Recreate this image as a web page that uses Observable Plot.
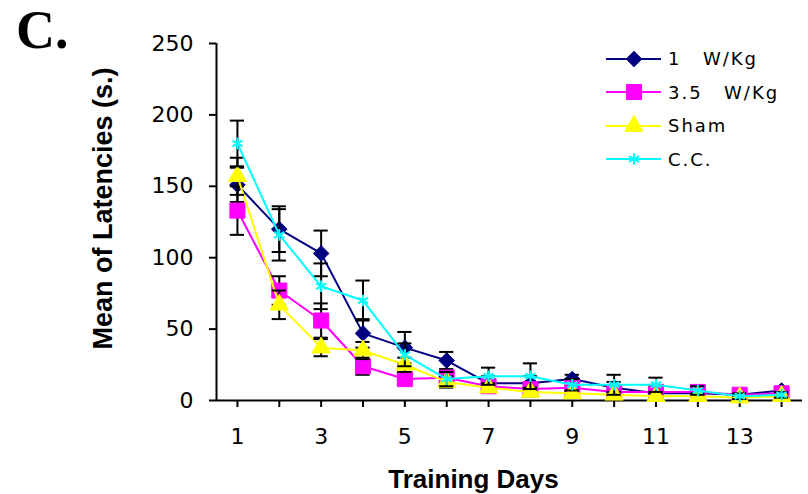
<!DOCTYPE html>
<html><head><meta charset="utf-8">
<script src="https://cdn.jsdelivr.net/npm/d3@7"></script>
<script src="https://cdn.jsdelivr.net/npm/@observablehq/plot@0.6"></script>
<style>
body{margin:0;background:#fff;}
#wrap{position:relative;width:808px;height:494px;overflow:hidden;}
#panel{position:absolute;left:16px;top:3px;font-family:"Liberation Serif",serif;font-weight:bold;font-size:54px;line-height:1;color:#000;}
#legend{position:absolute;left:604px;top:42px;font-family:"DejaVu Sans",sans-serif;font-size:18px;letter-spacing:2px;word-spacing:3px;color:#000;}
.row{display:flex;align-items:center;height:33.5px;white-space:pre;}
.row svg{margin-right:6px;}
</style></head>
<body><div id="wrap"><div id="chart"></div><div id="panel">C.</div><div id="legend"></div></div>
<script>
const days = [1,2,3,4,5,6,7,8,9,10,11,12,13,14];
const seriesNames = ["1  W/Kg", "3.5  W/Kg", "Sham", "C.C."];
const seriesColors = ["#000080", "#ff00ff", "#ffff00", "#00ffff"];
const seriesSymbols = ["diamond2", "square", "triangle", "asterisk"];
const oneWkg      = [151,120,103,47,37,28,12,12,15,9,5,5,4,7];
const oneWkgErr   = [12,16,16,10,11,6,5,5,3,4,3,3,2,2];
const threeWkg    = [133,77,56,24,15,16,10,8,9,6,6,6,4,5];
const threeWkgErr = [17,10,12,6,4,4,4,4,3,3,3,2,2,2];
const sham        = [157,67,37,35,25,13,9,6,5,4,3,3,2,3];
const shamErr     = [13,10,6,6,5,4,3,3,2,2,2,2,1,1];
const cc          = [180,116,80,70,32,15,17,17,11,11,11,7,3,4];
const ccErr       = [16,18,16,14,8,5,6,9,4,7,5,3,2,2];
const yTicks = [0,50,100,150,200,250];
const xLabel = "Training Days";
const yLabel = "Mean of Latencies (s.)";

const allValues = [oneWkg, threeWkg, sham, cc];
const allErrs = [oneWkgErr, threeWkgErr, shamErr, ccErr];
const series = seriesNames.map((name, k) => ({
  name, color: seriesColors[k], symbol: seriesSymbols[k],
  data: days.map((day, i) => ({day, value: allValues[k][i], err: allErrs[k][i]}))
}));
const cap = 0.17;
const symbolR = {diamond2: 7, square: 8.5, triangle: 6.8, asterisk: 5.5};
const strokedSymbols = new Set(["asterisk"]);

const marks = [
  Plot.ruleY([0], {stroke: "#000", strokeWidth: 2}),
  Plot.ruleX([0.5], {stroke: "#000", strokeWidth: 2}),
  Plot.axisX({ticks: days, tickSize: 7, tickPadding: 21, strokeWidth: 2,
    tickFormat: d => d % 2 ? String(d) : "", label: null, fontSize: 22}),
  Plot.axisY({ticks: yTicks, tickSize: 7, tickPadding: 16, strokeWidth: 2, label: null, fontSize: 22}),
  Plot.text([xLabel], {frameAnchor: "bottom", dx: -36, dy: 87, fontWeight: "bold", fontSize: 26,
    fontFamily: "Liberation Sans", text: d => d}),
  Plot.text([yLabel], {frameAnchor: "left", textAnchor: "middle", rotate: -90, dx: -113, dy: -13.5,
    fontWeight: "bold", fontSize: 27, fontFamily: "Liberation Sans", text: d => d})
];
for (const s of series) {
  marks.push(Plot.line(s.data, {x: "day", y: "value", stroke: s.color, strokeWidth: 2}));
  marks.push(Plot.ruleX(s.data, {x: "day", y1: d => d.value - d.err, y2: d => d.value + d.err, stroke: "#000", strokeWidth: 2}));
  marks.push(Plot.ruleY(s.data, {y: d => d.value + d.err, x1: d => d.day - cap, x2: d => d.day + cap, stroke: "#000", strokeWidth: 2}));
  marks.push(Plot.ruleY(s.data, {y: d => d.value - d.err, x1: d => d.day - cap, x2: d => d.day + cap, stroke: "#000", strokeWidth: 2}));
  if (strokedSymbols.has(s.symbol)) {
    marks.push(Plot.dot(s.data, {x: "day", y: "value", symbol: s.symbol, r: symbolR[s.symbol], stroke: s.color, strokeWidth: 2}));
  } else {
    marks.push(Plot.dot(s.data, {x: "day", y: "value", symbol: s.symbol, r: symbolR[s.symbol], fill: s.color, stroke: s.color, strokeWidth: 1}));
  }
}

const chart = Plot.plot({
  width: 808, height: 494,
  marginLeft: 216, marginRight: 6, marginTop: 43, marginBottom: 94,
  style: {fontFamily: "DejaVu Sans", fontSize: "22px", color: "#000", background: "#fff"},
  x: {type: "linear", domain: [0.5, 14.5]},
  y: {domain: [0, 250]},
  marks
});
document.getElementById("chart").appendChild(chart);

// legend
const legend = d3.select("#legend");
const symMap = {diamond2: d3.symbolDiamond2, square: d3.symbolSquare, triangle: d3.symbolTriangle, asterisk: d3.symbolAsterisk};
for (const s of series) {
  const row = legend.append("div").attr("class", "row");
  const svg = row.append("svg").attr("width", 58).attr("height", 22);
  svg.append("line").attr("x1", 2).attr("x2", 57).attr("y1", 11).attr("y2", 11)
    .attr("stroke", s.color).attr("stroke-width", 2);
  const r = symbolR[s.symbol];
  const path = svg.append("path").attr("transform", "translate(30,11)")
    .attr("d", d3.symbol(symMap[s.symbol], Math.PI * r * r)());
  if (strokedSymbols.has(s.symbol)) path.attr("fill", "none").attr("stroke", s.color).attr("stroke-width", 2);
  else path.attr("fill", s.color).attr("stroke", s.color);
  row.append("span").text(s.name);
}
</script>
</body></html>
